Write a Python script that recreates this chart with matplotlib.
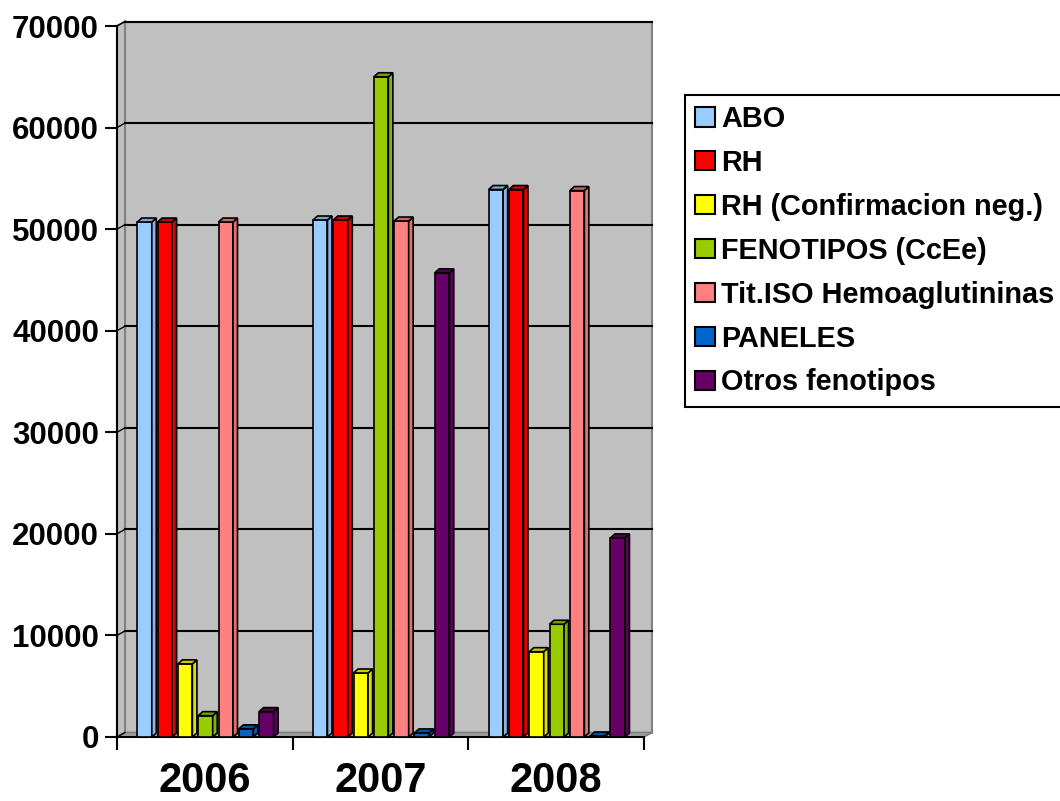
import matplotlib
matplotlib.use("Agg")
import matplotlib.pyplot as plt
from matplotlib.patches import Polygon, Rectangle, Patch
from matplotlib.colors import to_rgb
import numpy as np

plt.rcParams['font.family'] = ['Liberation Sans', 'DejaVu Sans']
plt.rcParams['font.weight'] = 'bold'

# data
years = ['2006', '2007', '2008']
series = ['ABO', 'RH', 'RH (Confirmacion neg.)', 'FENOTIPOS (CcEe)',
          'Tit.ISO Hemoaglutininas', 'PANELES', 'Otros fenotipos']
abo = [50700, 50900, 53900]
rh = [50700, 50900, 53900]
rh_conf = [7200, 6300, 8400]
fenotipos = [2100, 65000, 11100]
tit_iso = [50700, 50800, 53800]
paneles = [800, 400, 100]
otros = [2500, 45700, 19600]
values = [abo, rh, rh_conf, fenotipos, tit_iso, paneles, otros]
colors = ['#99CCFF', '#FF0000', '#FFFF00', '#99CC00', '#FF8080', '#0066CC', '#660066']

W, H = 1060, 801
fig = plt.figure(figsize=(W / 100, H / 100), dpi=100)

# axes in pixel terms: x 0..3 -> 117..644, y 0..70000 -> 737..26
x0, x1, y0, y1 = 117, 644, 737, 26
ax = fig.add_axes([x0 / W, (H - y0) / H, (x1 - x0) / W, (y0 - y1) / H])
ymax = 70000
ax.set_xlim(0, 3)
ax.set_ylim(0, ymax)

px_x = 3 / (x1 - x0)        # data units per pixel
px_y = ymax / (y0 - y1)
dx, dy = 8 * px_x, 4.5 * px_y   # depth of the walls

# back wall, side wall and floor
ax.add_patch(Rectangle((dx, dy), 3, ymax, facecolor='#C0C0C0', edgecolor='#808080',
                       lw=1.5, zorder=0, clip_on=False))
ax.add_patch(Polygon([(0, 0), (dx, dy), (dx, ymax + dy), (0, ymax)], closed=True,
                     facecolor='#C0C0C0', edgecolor='#808080', lw=1.5, zorder=0, clip_on=False))
ax.add_patch(Polygon([(0, 0), (3, 0), (3 + dx, dy), (dx, dy)], closed=True,
                     facecolor='#A0A0A0', edgecolor='#808080', lw=1.2, zorder=0.5, clip_on=False))

for v in range(10000, ymax + 1, 10000):
    ax.plot([dx, 3 + dx], [v + dy, v + dy], color='black', lw=1.5, zorder=0.3, clip_on=False)
for v in range(0, ymax + 1, 10000):
    ax.plot([0, dx], [v, v + dy], color='black', lw=1.0, zorder=0.6, clip_on=False)

# bars with a fake 3d side and top
pitch = 20.3 * px_x
wf = 14.5 * px_x
sx, sy = 4.5 * px_x, 4 * px_y


def shade(c, f):
    r, g, b = to_rgb(c)
    return (r * f, g * f, b * f)


for k, (vals, c) in enumerate(zip(values, colors)):
    lefts = np.arange(3) + pitch * (k + 1)
    ax.bar(lefts, vals, width=wf, align='edge', color=c, edgecolor='black', lw=1.2,
           zorder=2 + k * 0.01, clip_on=False)
    for xl, v in zip(lefts, vals):
        xr = xl + wf
        ax.add_patch(Polygon([(xr, 0), (xr + sx, sy), (xr + sx, v + sy), (xr, v)], closed=True,
                             facecolor=shade(c, 0.88), edgecolor='black', lw=1.2,
                             zorder=2 + k * 0.01, clip_on=False))
        ax.add_patch(Polygon([(xl, v), (xr, v), (xr + sx, v + sy), (xl + sx, v + sy)], closed=True,
                             facecolor=shade(c, 0.8), edgecolor='black', lw=1.2,
                             zorder=2.005 + k * 0.01, clip_on=False))

# axes look
for s in ['top', 'right']:
    ax.spines[s].set_visible(False)
ax.spines['left'].set_linewidth(1.5)
ax.spines['bottom'].set_linewidth(1.5)
ax.spines['left'].set_zorder(1)
ax.spines['bottom'].set_zorder(1)
ax.patch.set_visible(False)

ax.set_yticks(range(0, ymax + 1, 10000))
ax.set_yticklabels([str(v) for v in range(0, ymax + 1, 10000)], fontsize=22.5, fontweight='bold')
ax.tick_params(axis='y', length=9, width=1.5, pad=4)

ax.set_xticks([0, 1, 2, 3])
ax.set_xticklabels([])
ax.tick_params(axis='x', which='major', length=9, width=1.5)
ax.set_xticks([0.5, 1.5, 2.5], minor=True)
ax.set_xticklabels(years, minor=True, fontsize=30, fontweight='bold')
ax.tick_params(axis='x', which='minor', length=0, pad=17)

handles = [Patch(facecolor=c, edgecolor='black', lw=1.5) for c in colors]
leg = ax.legend(handles, series, loc='upper left', bbox_to_anchor=(685 / W, 1 - 95 / H),
                bbox_transform=fig.transFigure, fancybox=False, framealpha=1,
                edgecolor='black', borderaxespad=0, borderpad=0.35,
                handlelength=0.7, handleheight=0.64, handletextpad=0.2,
                labelspacing=0.55, prop={'size': 20.8, 'weight': 'bold'})
leg.get_frame().set_linewidth(1.5)

fig.savefig('out.png', dpi=100)
